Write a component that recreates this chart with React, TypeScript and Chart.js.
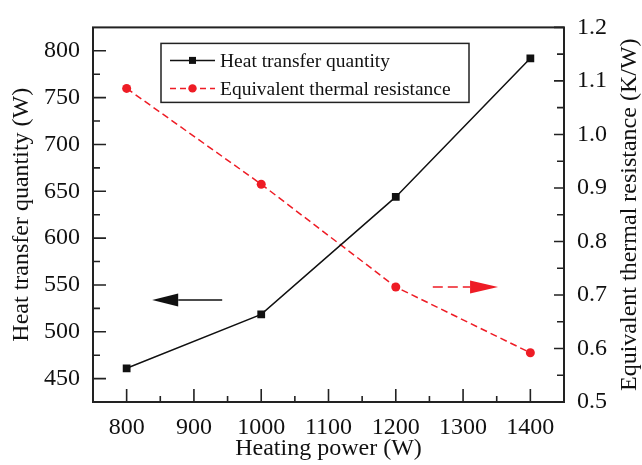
import React, { useEffect, useRef } from 'react';
import { Chart, registerables } from 'chart.js';

Chart.register(...registerables);

// ---- data ----
const heatingPower = [800, 1000, 1200, 1400];
const heatTransfer = [461, 518.5, 644, 792];
const thermalResistance = [1.086, 0.907, 0.715, 0.592];

// ---- axis ticks ----
const xTicks = [800, 900, 1000, 1100, 1200, 1300, 1400];
const xMinorTicks = [850, 950, 1050, 1150, 1250, 1350];
const leftTicks = [450, 500, 550, 600, 650, 700, 750, 800];
const leftMinorTicks = [475, 525, 575, 625, 675, 725, 775];
const rightTicks = [0.5, 0.6, 0.7, 0.8, 0.9, 1.0, 1.1, 1.2];
const rightMinorTicks = [0.55, 0.65, 0.75, 0.85, 0.95, 1.05, 1.15];

// ---- annotation arrows (data coordinates) ----
const heatArrowX = [942, 838];
const heatArrowY = [534, 534];
const resistArrowX = [1255, 1352];
const resistArrowY = [0.715, 0.715];

const labels = ['Heat transfer quantity', 'Equivalent thermal resistance'];
const xTitle = 'Heating power (W)';
const leftTitle = 'Heat transfer quantity (W)';
const rightTitle = 'Equivalent thermal resistance (K/W)';

const FONT = '"Liberation Serif", "Times New Roman", serif';
const BLACK = '#111111';
const RED = '#ee1c25';
const FRAME = '#222222';

function drawArrow(ctx: CanvasRenderingContext2D, x1: number, x2: number, y: number, color: string, dash: number[], headLen: number, halfH: number) {
  const dir = Math.sign(x2 - x1);
  ctx.save();
  ctx.strokeStyle = color;
  ctx.fillStyle = color;
  ctx.lineWidth = 1.5;
  ctx.setLineDash(dash);
  ctx.beginPath();
  ctx.moveTo(x1, y);
  ctx.lineTo(x2 - dir * headLen, y);
  ctx.stroke();
  ctx.setLineDash([]);
  ctx.beginPath();
  ctx.moveTo(x2, y);
  ctx.lineTo(x2 - dir * headLen, y - halfH);
  ctx.lineTo(x2 - dir * headLen, y + halfH);
  ctx.closePath();
  ctx.fill();
  ctx.restore();
}

const decorPlugin = {
  id: 'decor',
  afterDraw(chart: any) {
    const ctx: CanvasRenderingContext2D = chart.ctx;
    const { left, right, top, bottom } = chart.chartArea;
    const x = chart.scales.x;
    const yl = chart.scales.y;
    const yr = chart.scales.y1;
    ctx.save();
    // frame
    ctx.strokeStyle = FRAME;
    ctx.lineWidth = 2;
    ctx.strokeRect(left, top, right - left, bottom - top);
    ctx.lineWidth = 1.6;
    ctx.beginPath();
    xTicks.forEach((v) => { const p = x.getPixelForValue(v); ctx.moveTo(p, bottom); ctx.lineTo(p, bottom - 13); });
    xMinorTicks.forEach((v) => { const p = x.getPixelForValue(v); ctx.moveTo(p, bottom); ctx.lineTo(p, bottom - 6); });
    leftTicks.forEach((v) => { const p = yl.getPixelForValue(v); ctx.moveTo(left, p); ctx.lineTo(left + 13, p); });
    leftMinorTicks.forEach((v) => { const p = yl.getPixelForValue(v); ctx.moveTo(left, p); ctx.lineTo(left + 7, p); });
    rightTicks.forEach((v) => { const p = yr.getPixelForValue(v); ctx.moveTo(right, p); ctx.lineTo(right - 10, p); });
    rightMinorTicks.forEach((v) => { const p = yr.getPixelForValue(v); ctx.moveTo(right, p); ctx.lineTo(right - 7, p); });
    ctx.stroke();
    ctx.restore();

    // right axis title (reads bottom-to-top)
    ctx.save();
    ctx.translate(yr.right - 12, (top + bottom) / 2);
    ctx.rotate(-Math.PI / 2);
    ctx.font = `24px ${FONT}`;
    ctx.fillStyle = '#111';
    ctx.textAlign = 'center';
    ctx.textBaseline = 'middle';
    ctx.fillText(rightTitle, 0, 0);
    ctx.restore();

    // arrows
    drawArrow(ctx, x.getPixelForValue(heatArrowX[0]), x.getPixelForValue(heatArrowX[1]), yl.getPixelForValue(heatArrowY[0]), BLACK, [], 26, 6.5);
    drawArrow(ctx, x.getPixelForValue(resistArrowX[0]), x.getPixelForValue(resistArrowX[1]), yr.getPixelForValue(resistArrowY[0]), RED, [10, 5], 28, 6.5);

    // legend
    const bx = left + 68;
    const by = top + 16;
    const bw = 308;
    const bh = 59;
    ctx.save();
    ctx.fillStyle = '#ffffff';
    ctx.fillRect(bx, by, bw, bh);
    ctx.strokeStyle = FRAME;
    ctx.lineWidth = 1.5;
    ctx.strokeRect(bx, by, bw, bh);
    const rows = [by + 17, by + 45];
    ctx.strokeStyle = BLACK;
    ctx.lineWidth = 1.5;
    ctx.beginPath();
    ctx.moveTo(bx + 9, rows[0]);
    ctx.lineTo(bx + 54, rows[0]);
    ctx.stroke();
    ctx.fillStyle = BLACK;
    ctx.fillRect(bx + 31.5 - 3.5, rows[0] - 3.5, 7, 7);
    ctx.strokeStyle = RED;
    ctx.setLineDash([6, 4]);
    ctx.beginPath();
    ctx.moveTo(bx + 9, rows[1]);
    ctx.lineTo(bx + 54, rows[1]);
    ctx.stroke();
    ctx.setLineDash([]);
    ctx.fillStyle = RED;
    ctx.beginPath();
    ctx.arc(bx + 31.5, rows[1], 4.2, 0, Math.PI * 2);
    ctx.fill();
    ctx.fillStyle = '#111111';
    ctx.font = `19.5px ${FONT}`;
    ctx.textBaseline = 'middle';
    ctx.textAlign = 'left';
    ctx.fillText(labels[0], bx + 59, rows[0] + 1);
    ctx.fillText(labels[1], bx + 59, rows[1] + 1);
    ctx.restore();
  },
};

export default function App() {
  const ref = useRef<HTMLCanvasElement | null>(null);
  useEffect(() => {
    document.body.style.margin = '0';
    if (!ref.current) return;
    const tickFont = { family: FONT, size: 24 };
    const titleFont = { family: FONT, size: 24, lineHeight: 1.0 };
    const chart = new Chart(ref.current, {
      type: 'line',
      data: {
        datasets: [
          {
            label: labels[0],
            data: heatingPower.map((p, i) => ({ x: p, y: heatTransfer[i] })),
            yAxisID: 'y',
            borderColor: BLACK,
            backgroundColor: BLACK,
            borderWidth: 1.5,
            pointStyle: 'rect',
            pointRadius: 5.5,
            pointBorderWidth: 0,
            tension: 0,
          },
          {
            label: labels[1],
            data: heatingPower.map((p, i) => ({ x: p, y: thermalResistance[i] })),
            yAxisID: 'y1',
            borderColor: RED,
            backgroundColor: RED,
            borderWidth: 1.5,
            borderDash: [7, 4],
            pointStyle: 'circle',
            pointRadius: 4.5,
            pointBorderWidth: 0,
            tension: 0,
          },
        ],
      },
      options: {
        animation: false,
        responsive: false,
        layout: { padding: { top: 16, left: 0, right: 0, bottom: 0 } },
        plugins: { legend: { display: false }, tooltip: { enabled: false } },
        scales: {
          x: {
            type: 'linear',
            position: 'bottom',
            min: 750,
            max: 1450,
            grid: { display: false, drawTicks: false },
            border: { display: false },
            afterBuildTicks: (s: any) => { s.ticks = xTicks.map((v) => ({ value: v })); },
            afterFit: (s: any) => { s.height = 63; },
            ticks: { font: tickFont, color: '#111', padding: 11, maxRotation: 0, autoSkip: false, callback: (v: any) => String(v) },
            title: { display: true, text: xTitle, font: titleFont, color: '#111', padding: { top: 0, bottom: 4 } },
          },
          y: {
            type: 'linear',
            position: 'left',
            min: 425,
            max: 825,
            grid: { display: false, drawTicks: false },
            border: { display: false },
            afterBuildTicks: (s: any) => { s.ticks = leftTicks.map((v) => ({ value: v })); },
            afterFit: (s: any) => { s.width = 93; },
            ticks: { font: tickFont, color: '#111', padding: 13, autoSkip: false, callback: (v: any) => String(v) },
            title: { display: true, text: leftTitle, font: titleFont, color: '#111', padding: { top: 10, bottom: 0 } },
          },
          y1: {
            type: 'linear',
            position: 'right',
            min: 0.5,
            max: 1.2,
            grid: { display: false, drawTicks: false },
            border: { display: false },
            afterBuildTicks: (s: any) => { s.ticks = rightTicks.map((v) => ({ value: v })); },
            afterFit: (s: any) => { s.width = 78; },
            ticks: { font: tickFont, color: '#111', padding: 13, autoSkip: false, callback: (v: any) => Number(v).toFixed(1) },
            title: { display: false },
          },
        },
      },
      plugins: [decorPlugin],
    } as any);
    return () => chart.destroy();
  }, []);
  return (
    <div style={{ position: 'absolute', left: 0, top: 0, width: 642, height: 465 }}>
      <canvas ref={ref} width={642} height={465} style={{ display: 'block' }} />
    </div>
  );
}
